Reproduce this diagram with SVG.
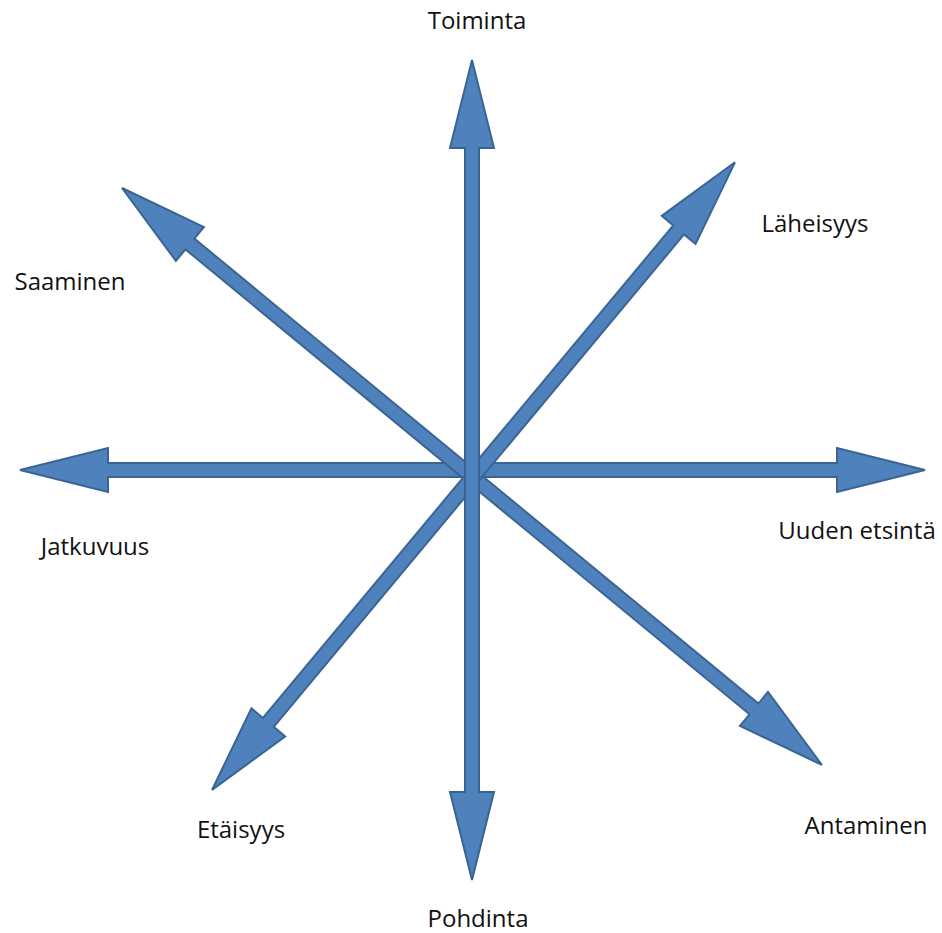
<svg xmlns="http://www.w3.org/2000/svg" width="942" height="933" viewBox="0 0 942 933">
<style>
.arrow{fill:#4F81BD;stroke:#3A6593;stroke-width:2;stroke-linejoin:miter}
.lbl{font-family:"Open Sans","Liberation Sans",sans-serif;font-size:24px;fill:#111;text-anchor:middle}
</style>
<rect width="942" height="933" fill="#fff"/>
<g id="connectors">
<polygon class="arrow" transform="translate(20,470) rotate(0)" points="0,0 88,-22 88,-7 817,-7 817,-22 905,0 817,22 817,7 88,7 88,22"/>
<polygon class="arrow" transform="translate(122,188) rotate(39.5)" points="0,0 88,-22 88,-7 819,-7 819,-22 907,0 819,22 819,7 88,7 88,22"/>
<polygon class="arrow" transform="translate(212,790) rotate(-50.2)" points="0,0 88,-22 88,-7 729,-7 729,-22 817,0 729,22 729,7 88,7 88,22"/>
<polygon class="arrow" transform="translate(472,880) rotate(-90)" points="0,0 88,-22 88,-7 732,-7 732,-22 820,0 732,22 732,7 88,7 88,22"/>
</g>
<g id="toiminta"><text class="lbl" x="477" y="29">Toiminta</text></g>
<g id="laheisyys"><text class="lbl" x="815" y="232">Läheisyys</text></g>
<g id="saaminen"><text class="lbl" x="70" y="290">Saaminen</text></g>
<g id="jatkuvuus"><text class="lbl" x="95" y="555">Jatkuvuus</text></g>
<g id="uuden-etsinta"><text class="lbl" x="857" y="539">Uuden etsintä</text></g>
<g id="etaisyys"><text class="lbl" x="241" y="838">Etäisyys</text></g>
<g id="pohdinta"><text class="lbl" x="478" y="927">Pohdinta</text></g>
<g id="antaminen"><text class="lbl" x="866" y="834">Antaminen</text></g>
</svg>
